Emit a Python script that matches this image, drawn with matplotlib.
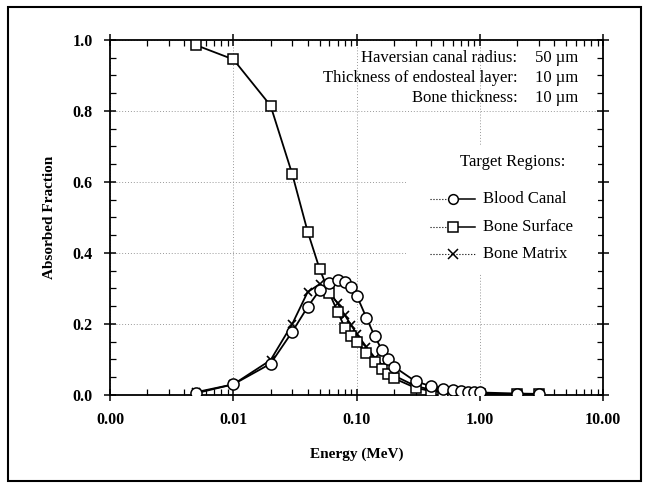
import matplotlib
matplotlib.use("Agg")
import matplotlib.pyplot as plt
from matplotlib.patches import Rectangle
from matplotlib.ticker import FixedLocator, MultipleLocator, FuncFormatter, LogLocator

plt.rcParams['font.family'] = ['Liberation Serif', 'DejaVu Serif']

# energies (MeV)
energy = [0.005, 0.01, 0.02, 0.03, 0.04, 0.05, 0.06, 0.07, 0.08, 0.09, 0.1,
          0.12, 0.14, 0.16, 0.18, 0.2, 0.3, 0.4, 0.5, 0.6, 0.7, 0.8, 0.9,
          1.0, 2.0, 3.0]
blood_canal = [0.005, 0.03, 0.088, 0.178, 0.248, 0.295, 0.315, 0.324, 0.318,
               0.305, 0.28, 0.217, 0.165, 0.127, 0.1, 0.08, 0.038, 0.025,
               0.018, 0.014, 0.011, 0.009, 0.008, 0.007, 0.004, 0.003]
bone_surface = [0.985, 0.945, 0.815, 0.622, 0.46, 0.355, 0.287, 0.234, 0.19,
                0.165, 0.148, 0.118, 0.092, 0.072, 0.058, 0.047, 0.02, 0.011,
                0.008, 0.006, 0.005, 0.004, 0.004, 0.003, 0.002, 0.002]
bone_matrix = [0.008, 0.03, 0.098, 0.2, 0.29, 0.312, 0.29, 0.258, 0.225,
               0.197, 0.172, 0.135, 0.105, 0.085, 0.068, 0.055, 0.025, 0.015,
               0.011, 0.008, 0.006, 0.005, 0.004, 0.004, 0.002, 0.002]

params = [("Haversian canal radius:", "50 \u00b5m"),
          ("Thickness of endosteal layer:", "10 \u00b5m"),
          ("Bone thickness:", "10 \u00b5m")]

fig = plt.figure(figsize=(6.48, 4.87), dpi=100)
ax = fig.add_axes([0.170, 0.189, 0.761, 0.729])

lw = 1.3
ax.plot(energy, bone_matrix, color='black', lw=lw, marker='x', ms=6, mew=1.2, zorder=3)
ax.plot(energy, bone_surface, color='black', lw=lw, marker='s', ms=7,
        mfc='white', mec='black', mew=1.1, zorder=4)
ax.plot(energy, blood_canal, color='black', lw=lw, marker='o', ms=8,
        mfc='white', mec='black', mew=1.1, zorder=5)

ax.set_xscale('log')
ax.set_xlim(0.001, 10)
ax.set_ylim(0, 1.0)
ax.xaxis.set_major_locator(FixedLocator([0.001, 0.01, 0.1, 1, 10]))
ax.xaxis.set_minor_locator(LogLocator(base=10, subs=range(2, 10), numticks=20))
ax.xaxis.set_major_formatter(FuncFormatter(lambda v, p: "%.2f" % v))
ax.xaxis.set_minor_formatter(FuncFormatter(lambda v, p: ""))
ax.yaxis.set_major_locator(MultipleLocator(0.2))
ax.yaxis.set_minor_locator(MultipleLocator(0.05))
ax.yaxis.set_major_formatter(FuncFormatter(lambda v, p: "%.1f" % v))

ax.tick_params(which='major', direction='inout', length=9, width=1.1,
               top=True, right=True, labelsize=11.5, pad=8)
ax.tick_params(which='minor', direction='in', length=4, width=0.9,
               top=True, right=True)
for lab in ax.get_xticklabels() + ax.get_yticklabels():
    lab.set_fontweight('bold')
for s in ax.spines.values():
    s.set_linewidth(1.3)

ax.grid(True, which='major', linestyle=(0, (1, 2)), color='#999999', lw=0.7)
ax.set_axisbelow(True)

ax.set_xlabel("Energy (MeV)", fontsize=11, fontweight='bold', labelpad=14)
ax.set_ylabel("Absorbed Fraction", fontsize=11, fontweight='bold', labelpad=12)

# parameter text block
for i, (lab, val) in enumerate(params):
    yy = 0.949 - i * 0.056
    ax.text(0.826, yy, lab, transform=ax.transAxes, ha='right', va='center',
            fontsize=12, zorder=6)
    ax.text(0.862, yy, val, transform=ax.transAxes, ha='left', va='center',
            fontsize=12, zorder=6)

# legend box drawn by hand
ax.add_patch(Rectangle((0.60, 0.34), 0.39, 0.36, transform=ax.transAxes,
                       facecolor='white', edgecolor='none', zorder=2))
ax.text(0.817, 0.656, "Target Regions:", transform=ax.transAxes, ha='center',
        va='center', fontsize=12, zorder=6)
entries = [("Blood Canal", 'o', '-'), ("Bone Surface", 's', '-'),
           ("Bone Matrix", 'x', ':')]
for i, (name, mk, ls) in enumerate(entries):
    yy = 0.552 - i * 0.078
    ax.plot([0.649, 0.696], [yy, yy], transform=ax.transAxes, color='black',
            lw=0.8, ls=':', zorder=6)
    ax.plot([0.696, 0.740], [yy, yy], transform=ax.transAxes, color='black',
            lw=1.1 if ls == '-' else 0.8, ls=ls, zorder=6)
    ax.plot([0.696], [yy], transform=ax.transAxes, color='black', marker=mk,
            ms=7, mfc='white', mec='black', mew=1.1, zorder=7)
    ax.text(0.757, yy, name, transform=ax.transAxes, ha='left', va='center',
            fontsize=12, zorder=6)

# outer frame
fig.patches.append(Rectangle((8 / 648, 6 / 487), 633 / 648, 474 / 487,
                             transform=fig.transFigure, fill=False,
                             edgecolor='black', lw=1.5))

fig.savefig('out.png', dpi=100)
